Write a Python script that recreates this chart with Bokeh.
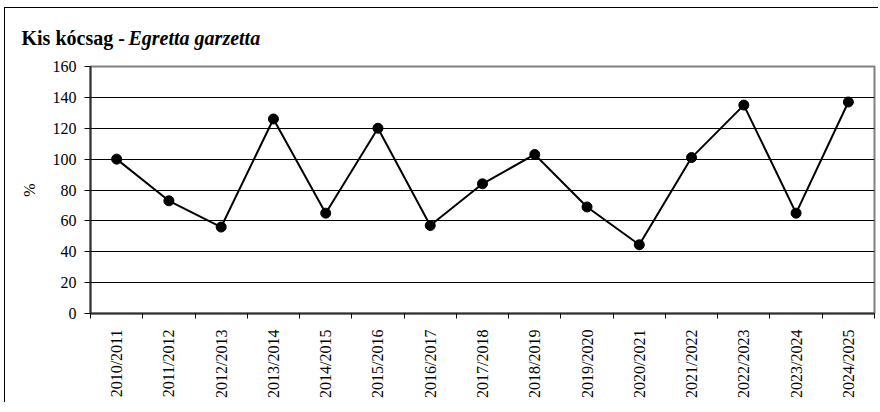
import math
from bokeh.plotting import figure
from bokeh.models import Range1d, FixedTicker, Label, ColumnDataSource
from bokeh.embed import file_html
from bokeh.resources import INLINE

# ---- data ----
seasons = ["2010/2011", "2011/2012", "2012/2013", "2013/2014", "2014/2015",
           "2015/2016", "2016/2017", "2017/2018", "2018/2019", "2019/2020",
           "2020/2021", "2021/2022", "2022/2023", "2023/2024", "2024/2025"]
values = [100, 73, 56, 126, 65, 120, 57, 84, 103, 69, 44.5, 101, 135, 65, 137]
y_ticks = [0, 20, 40, 60, 80, 100, 120, 140, 160]
title_plain = "Kis kócsag - "
title_italic = "Egretta garzetta"
y_label = "%"

FONT = "Liberation Serif"
W = 874

x_pos = [i + 0.5 for i in range(len(seasons))]
boundaries = list(range(len(seasons) + 1))
src = ColumnDataSource(dict(x=x_pos, y=values))

# ---- title strip ----
t = figure(width=W, height=44, output_backend="svg", toolbar_location=None,
           x_range=Range1d(0, 1), y_range=Range1d(0, 1),
           x_axis_type=None, y_axis_type=None,
           min_border_left=0, min_border_right=0, min_border_top=0, min_border_bottom=0)
t.grid.visible = False
t.outline_line_color = None
t.background_fill_color = "white"
t.border_fill_color = "white"
t.add_layout(Label(x=16, y=15, x_units="screen", y_units="screen",
                   text=title_plain, text_font=FONT, text_font_style="bold",
                   text_font_size="20px", text_color="black",
                   text_baseline="alphabetic"))
t.add_layout(Label(x=123, y=15, x_units="screen", y_units="screen",
                   text=title_italic, text_font=FONT, text_font_style="bold italic",
                   text_font_size="20px", text_color="black",
                   text_baseline="alphabetic"))
t.styles = {"margin-left": "4px", "margin-top": "7px",
            "border-left": "1px solid #000", "border-top": "1px solid #000"}

# ---- main chart ----
p = figure(width=W, height=351, output_backend="svg", toolbar_location=None,
           x_range=Range1d(0, len(seasons)), y_range=Range1d(y_ticks[0], y_ticks[-1]),
           min_border_left=85, min_border_right=5, min_border_top=15,
           min_border_bottom=89)
p.styles = {"margin-left": "4px", "border-left": "1px solid #000"}
p.background_fill_color = "white"
p.border_fill_color = "white"
p.outline_line_color = "#808080"
p.outline_line_width = 2

p.xgrid.visible = False
p.ygrid.ticker = FixedTicker(ticks=y_ticks)
p.ygrid.grid_line_color = "black"
p.ygrid.grid_line_width = 1

ya = p.yaxis[0]
ya.ticker = FixedTicker(ticks=y_ticks)
ya.axis_line_color = "#333333"
ya.axis_line_width = 2
ya.major_tick_out = 6
ya.major_tick_in = 0
ya.major_tick_line_color = "black"
ya.minor_tick_line_color = None
ya.major_label_standoff = 8
ya.major_label_text_font = FONT
ya.major_label_text_font_size = "16px"
ya.major_label_text_color = "black"
ya.axis_label = y_label
ya.axis_label_text_font = FONT
ya.axis_label_text_font_style = "normal"
ya.axis_label_text_font_size = "16px"
ya.axis_label_text_color = "black"
ya.axis_label_standoff = 12

xa = p.xaxis[0]
xa.ticker = FixedTicker(ticks=x_pos, minor_ticks=boundaries)
xa.major_label_overrides = {xv: s for xv, s in zip(x_pos, seasons)}
xa.major_label_orientation = math.pi / 2
xa.major_tick_out = 0
xa.major_tick_in = 0
xa.minor_tick_out = 5
xa.minor_tick_in = 0
xa.minor_tick_line_color = "black"
xa.axis_line_color = "#333333"
xa.axis_line_width = 2
xa.major_label_standoff = 11
xa.major_label_text_font = FONT
xa.major_label_text_font_size = "16px"
xa.major_label_text_color = "black"

p.line("x", "y", source=src, line_color="black", line_width=2)
p.scatter("x", "y", source=src, size=10, fill_color="black", line_color="black")

open("out.html", "w").write(file_html([t, p], INLINE))
